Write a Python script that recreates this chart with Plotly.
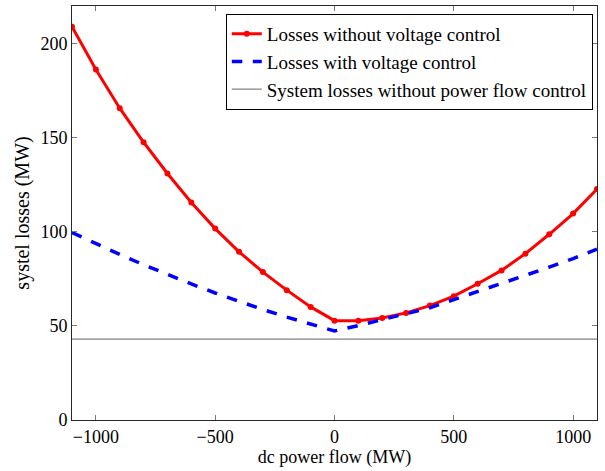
import plotly.graph_objects as go

dc_flow = [-1100, -1000, -900, -800, -700, -600, -500, -400, -300, -200, -100,
           0, 100, 200, 300, 400, 500, 600, 700, 800, 900, 1000, 1100]
loss_no_vc = [209.0, 186.3, 165.7, 147.6, 131.0, 115.6, 101.7, 89.4, 78.6, 69.0, 60.1,
              52.8, 52.8, 54.2, 56.9, 60.8, 65.8, 72.4, 79.5, 88.4, 98.7, 109.7, 122.7]
loss_vc = [99.6, 93.7, 88.0, 82.5, 77.3, 72.3, 67.5, 63.0, 58.7, 54.7, 50.9,
           47.3, 50.2, 53.3, 56.4, 59.6, 64.0, 68.2, 72.5, 76.7, 81.2, 85.8, 90.8]
baseline_x = [-1100, 1100]
baseline_loss = [43.0, 43.0]

x_ticks = [-1000, -500, 0, 500, 1000]
x_tick_text = ["\u22121000", "\u2212500", "0", "500", "1000"]
y_ticks = [0, 50, 100, 150, 200]

FONT = "Liberation Serif"

fig = go.Figure()
fig.add_trace(go.Scatter(
    x=dc_flow, y=loss_no_vc, mode="lines+markers",
    name="Losses without voltage control",
    line=dict(color="rgb(255,0,0)", width=3),
    marker=dict(color="rgb(255,0,0)", size=6, symbol="circle"),
))
fig.add_trace(go.Scatter(
    x=dc_flow, y=loss_vc, mode="lines",
    name="Losses with voltage control",
    line=dict(color="rgb(0,0,255)", width=3.5, dash="dash"),
))
fig.add_trace(go.Scatter(
    x=baseline_x, y=baseline_loss, mode="lines",
    name="System losses without power flow control",
    line=dict(color="rgb(60,60,60)", width=0.8),
))

axis_common = dict(
    showline=True, linecolor="rgb(40,40,40)", linewidth=1,
    mirror="allticks", ticks="inside", ticklen=5, tickcolor="rgb(120,120,120)",
    showgrid=False, zeroline=False,
    tickfont=dict(family=FONT, size=18, color="black"),
)

fig.update_layout(
    width=605, height=471,
    margin=dict(l=72, r=8, t=6, b=51),
    paper_bgcolor="white", plot_bgcolor="white",
    font=dict(family=FONT, color="black"),
    showlegend=True,
    legend=dict(
        x=0.992, y=0.981, xanchor="right", yanchor="top",
        bordercolor="black", borderwidth=1, bgcolor="white",
        font=dict(family=FONT, size=19, color="black"),
        tracegroupgap=0, itemwidth=30,
    ),
    xaxis=dict(
        range=[-1100, 1100], tickvals=x_ticks, ticktext=x_tick_text,
        title=dict(text="dc power flow (MW)", font=dict(family=FONT, size=18), standoff=4),
        **axis_common,
    ),
    yaxis=dict(
        range=[0, 220], tickvals=y_ticks,
        title=dict(text="systel losses (MW)", font=dict(family=FONT, size=20), standoff=5),
        **axis_common,
    ),
)

fig.write_html("out.html")
